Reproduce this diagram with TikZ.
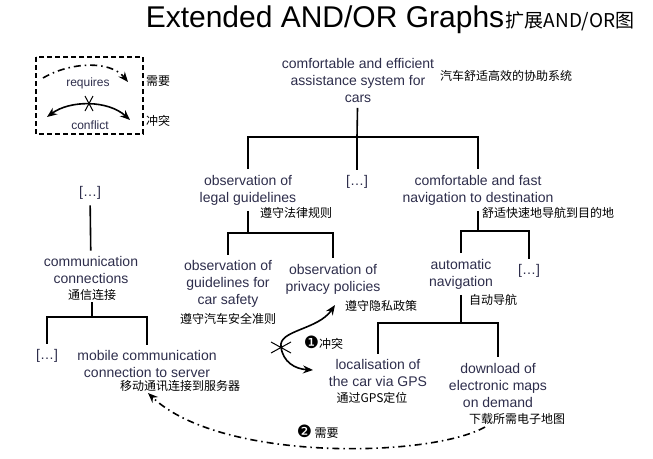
\documentclass[tikz,border=0pt]{standalone}
\usepackage{fontspec}
\setmainfont{Liberation Sans}
\newfontfamily\zhfont{Noto Sans CJK SC}
\newfontfamily\symfont{DejaVu Sans}
\usetikzlibrary{positioning,arrows.meta}
\definecolor{labelblue}{RGB}{45,45,75}

\begin{document}
\begin{tikzpicture}
  [x=1pt,y=-1pt,line width=1.6pt,
   every node/.style={align=center,text=labelblue,inner sep=5pt,font=\fontsize{14}{17}\selectfont},
   zh/.style={text=black,inner sep=1pt,font=\zhfont\fontsize{12}{14}\selectfont},
   tip/.style={-{Stealth[length=10pt,width=8pt]}},
   dashdot/.style={dash pattern=on 7pt off 4pt on 1.5pt off 4pt}]

  \useasboundingbox (0,0) rectangle (653,458);

  \node[text=black,inner sep=0pt,font=\fontsize{30}{36}\selectfont] (title) at (325,20) {Extended AND/OR Graphs};
  \node[zh,font=\zhfont\fontsize{19}{22}\selectfont] (titlezh) at (570,21) {扩展AND/OR图};

  % legend
  \draw[line width=1.5pt,dash pattern=on 5pt off 3pt] (36,57) rectangle (143,134);
  \node[inner sep=1pt,font=\fontsize{12}{14}\selectfont] (req) at (88,83) {requires};
  \node[inner sep=1pt,font=\fontsize{12}{14}\selectfont] (con) at (90,125) {conflict};
  \node[zh] (reqzh) at (158,81) {需要};
  \node[zh] (conzh) at (158,121) {冲突};
  \coordinate (ra) at (43,78);
  \coordinate (rb) at (128,82);
  \coordinate (ca) at (47,117);
  \coordinate (cb) at (130,120);
  \draw[tip,dashdot] (ra) .. controls (70,62) and (110,60) .. (rb);
  \draw[{Stealth[length=10pt,width=8pt]}-{Stealth[length=10pt,width=8pt]}] (ca) .. controls (70,100) and (108,100) .. (cb);
  \draw[line width=1pt] (85,96) -- (93,111) (93,96) -- (85,111);

  \node (root) at (358,80) {comfortable and efficient\\assistance system for\\cars};
  \node[zh] (rootzh) at (506,76) {汽车舒适高效的协助系统};

  \node (legal) at (248,190) {observation of\\legal guidelines};
  \node[zh] (legalzh) at (296,213) {遵守法律规则};
  \node (dots1) at (357,182) {[…]};
  \node (fast) at (478,190) {comfortable and fast\\navigation to destination};
  \node[zh] (fastzh) at (548,213) {舒适快速地导航到目的地};

  \node (safety) at (228,284) {observation of\\guidelines for\\car safety};
  \node[zh] (safetyzh) at (228,319) {遵守汽车安全准则};
  \node (privacy) at (333,279) {observation of\\privacy policies};
  \node[zh] (privacyzh) at (381,306) {遵守隐私政策};

  \node (auto) at (461,274) {automatic\\navigation};
  \node[zh] (autozh) at (493,300) {自动导航};
  \node (dots2) at (529,271) {[…]};

  \node (loc) at (378,373) {localisation of\\the car via GPS};
  \node[zh] (loczh) at (372,398) {通过GPS定位};
  \node (dl) at (498,385) {download of\\electronic maps\\on demand};
  \node[zh] (dlzh) at (517,419) {下载所需电子地图};

  \node (dots3) at (90,193) {[…]};
  \node (comm) at (91,270) {communication\\connections};
  \node[zh] (commzh) at (92,295) {通信连接};
  \node (dots4) at (47,356) {[…]};
  \node (mobile) at (147,364) {mobile communication\\connection to server};
  \node[zh] (mobilezh) at (180,386) {移动通讯连接到服务器};

  \coordinate (j1) at (357,137);
  \coordinate (j2) at (248,233);
  \coordinate (j3) at (478,231);
  \coordinate (j4) at (461,323);
  \coordinate (j5) at (92,317);

  \draw (root) -- (j1);
  \draw (legal) |- (j1) -| (fast);
  \draw (j1) -- (dots1);
  \draw (legal) -- (j2);
  \draw (safety) |- (j2) -| (privacy);
  \draw (fast) -- (j3);
  \draw (auto) |- (j3) -| (dots2);
  \draw (auto) -- (j4);
  \draw (loc) |- (j4) -| (dl);
  \draw (dots3) -- (comm);
  \draw (commzh) -- (j5);
  \draw (dots4) |- (j5) -| (mobile);

  % conflict
  \coordinate (cf) at (281,347);
  \coordinate (cfa) at (335,305);
  \coordinate (cfb) at (313,370);
  \draw[tip] (cf) .. controls (278,330) and (318,330) .. (cfa);
  \draw[tip] (cf) .. controls (283,362) and (295,369) .. (cfb);
  \draw[line width=1pt] (271,342) -- (291,353) (271,353) -- (291,342);
  \node[zh,anchor=west] (cflab) at (302,343) {{\symfont\fontsize{17}{17}\selectfont ❶}冲突};

  % requires
  \coordinate (rqa) at (485,427);
  \coordinate (rqb) at (148,393);
  \draw[tip,dashdot] (rqa) .. controls (430,458) and (220,462) .. (rqb);
  \node[zh,anchor=west] (rqlab) at (295,432) {{\symfont\fontsize{17}{17}\selectfont ❷} 需要};
\end{tikzpicture}
\end{document}
